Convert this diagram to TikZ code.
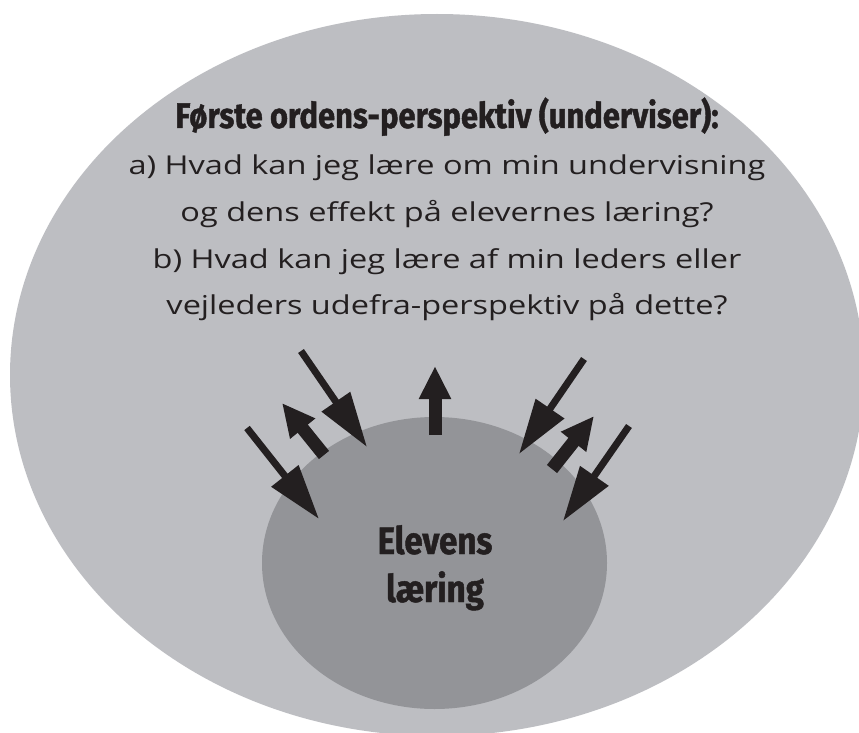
\documentclass[tikz,border=0pt]{standalone}
\usepackage{fontspec}
\usepackage{tikz}
\usetikzlibrary{arrows.meta,shapes.geometric}

\setmainfont{Open Sans}
\newfontfamily\headfont[FakeStretch=0.87,FakeBold=1.2]{Fira Sans}
\newfontfamily\handfont[FakeStretch=1.25]{Open Sans}

\definecolor{outergray}{HTML}{BDBEC2}
\definecolor{innergray}{HTML}{939498}
\definecolor{ink}{HTML}{231F20}

\begin{document}
\begin{tikzpicture}[
  x=1pt, y=1pt,
  rim/.style={ellipse, inner sep=0pt, draw=none},
  head/.style={font=\headfont\bfseries\fontsize{35.5}{40}\selectfont, text=ink, anchor=base, inner sep=0pt},
  qline/.style={font=\handfont\fontsize{26}{32}\selectfont, text=ink, anchor=base, inner sep=0pt},
  core/.style={font=\headfont\bfseries\fontsize{38}{46}\selectfont, text=ink, anchor=base, inner sep=0pt},
  inarr/.style={draw=ink, line width=7pt, -{Triangle[length=55pt,width=33pt]}},
  outarr/.style={draw=ink, line width=13pt, -{Triangle[length=33pt,width=30pt]}}
]
\useasboundingbox (0,0) rectangle (859,-733);
\fill[white] (0,0) rectangle (859,-733);
\clip (0,0) rectangle (859,-733);

% the two circles
\node[rim, fill=outergray, minimum width=854pt, minimum height=722pt] (outer) at (437,-375) {};
\node[rim, fill=innergray, minimum width=345pt, minimum height=292pt] (inner) at (434.5,-563) {};

% text
\node[head] (title) at (447,-128) {Første ordens-perspektiv (underviser):};
\node[qline] (qa1) at (447,-175) {a) Hvad kan jeg lære om min undervisning};
\node[qline] (qa2) at (447,-221) {og dens effekt på elevernes læring?};
\node[qline] (qb1) at (447,-268) {b) Hvad kan jeg lære af min leders eller};
\node[qline] (qb2) at (447,-314) {vejleders udefra-perspektiv på dette?};
\node[core] (elev) at (435,-554) {Elevens};
\node[core] (laer) at (435,-602) {læring};

% arrow ends
\coordinate (in1s) at (247,-428);
\coordinate (in1e) at (319,-519);
\coordinate (in2s) at (301,-351);
\coordinate (in2e) at (367,-447);
\coordinate (in3s) at (584,-359);
\coordinate (in3e) at (519,-454);
\coordinate (in4s) at (629,-426);
\coordinate (in4e) at (563,-521);
\coordinate (out1s) at (324,-455);
\coordinate (out1e) at (282,-403);
\coordinate (out2s) at (435,-435);
\coordinate (out2e) at (435,-366);
\coordinate (out3s) at (552,-469);
\coordinate (out3e) at (594,-416);

% arrows
\draw[inarr] (in1s) -- (in1e);
\draw[inarr] (in2s) -- (in2e);
\draw[inarr] (in3s) -- (in3e);
\draw[inarr] (in4s) -- (in4e);
\draw[outarr] (out1s) -- (out1e);
\draw[outarr] (out2s) -- (out2e);
\draw[outarr] (out3s) -- (out3e);

\end{tikzpicture}
\end{document}
